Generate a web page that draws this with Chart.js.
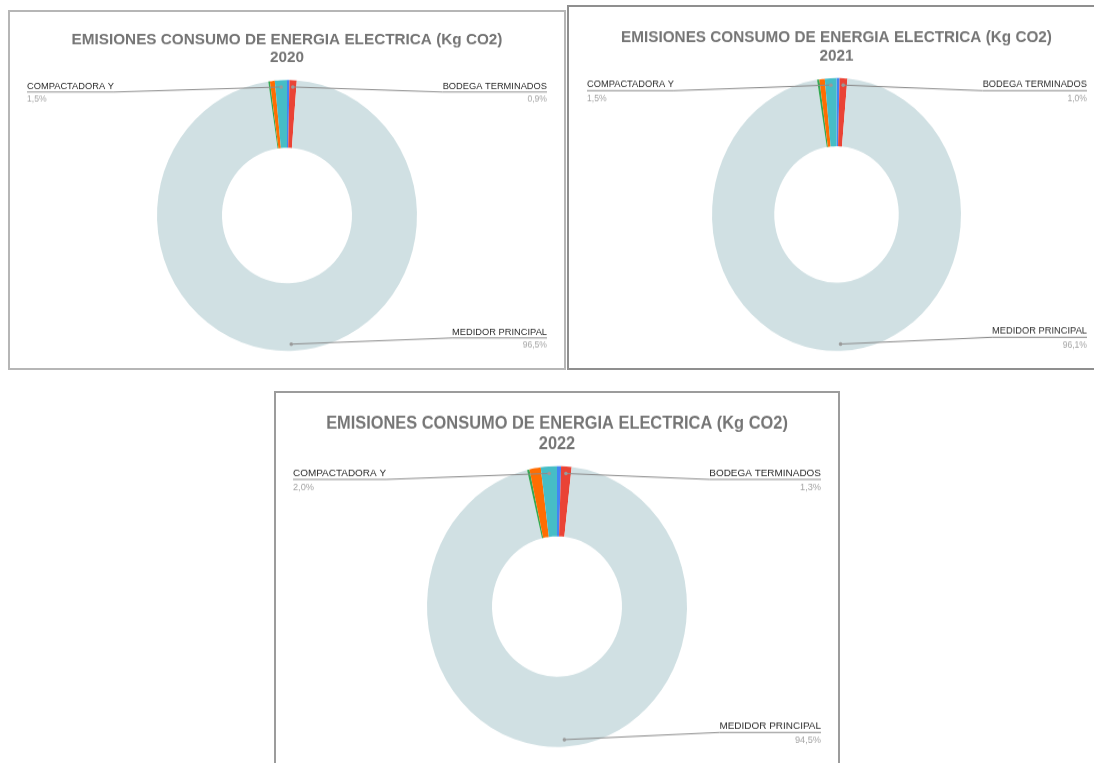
<!DOCTYPE html>
<html><head><meta charset="utf-8">
<script src="https://cdn.jsdelivr.net/npm/chart.js@4.4.1/dist/chart.umd.min.js"></script>
<style>
html,body{margin:0;padding:0;background:#fff;width:1094px;height:763px;overflow:hidden;position:relative;}
.panel{position:absolute;box-sizing:border-box;border:2px solid #aaa;background:#fff;overflow:hidden;}
.panel .inner{position:absolute;left:0;top:0;transform-origin:0 0;}
canvas{display:block;}
</style></head><body>
<div class="panel" id="p1"><div class="inner"><canvas id="c1"></canvas></div></div>
<div class="panel" id="p2"><div class="inner"><canvas id="c2"></canvas></div></div>
<div class="panel" id="p3"><div class="inner"><canvas id="c3"></canvas></div></div>
<script>
const categories = ['AREA 1', 'BODEGA TERMINADOS', 'MEDIDOR PRINCIPAL', 'AREA 2', 'AREA 3', 'COMPACTADORA Y'];
const years = ['2020', '2021', '2022'];
const values2020 = [0.3, 0.9, 96.5, 0.2, 0.6, 1.5];
const values2021 = [0.4, 1.0, 96.1, 0.3, 0.7, 1.5];
const values2022 = [0.5, 1.3, 94.5, 0.3, 1.4, 2.0];
const sliceColors = ['#4285F4', '#EA4335', '#D0E0E3', '#34A853', '#FF6D01', '#46BDC6'];
const chartTitle = 'EMISIONES CONSUMO DE ENERGIA ELECTRICA (Kg CO2)';
const labeledCategories = ['COMPACTADORA Y', 'BODEGA TERMINADOS', 'MEDIDOR PRINCIPAL'];

const FONT = '"Liberation Sans", Arial, Helvetica, sans-serif';

const leaderLabels = {
  id: 'leaderLabels',
  afterDatasetsDraw(chart, args, opts) {
    const ctx = chart.ctx;
    const meta = chart.getDatasetMeta(0);
    const data = chart.data.datasets[0].data;
    const total = data.reduce((a, b) => a + b, 0);
    const ca = chart.chartArea;
    const fs = opts.fs;
    ctx.save();
    opts.items.forEach(it => {
      const i = chart.data.labels.indexOf(it.label);
      const p = meta.data[i].getProps(['x', 'y', 'startAngle', 'endAngle', 'outerRadius'], true);
      const mid = (p.startAngle + p.endAngle) / 2;
      const px = p.x + Math.cos(mid) * p.outerRadius * 0.95;
      const py = p.y + Math.sin(mid) * p.outerRadius * 0.95;
      ctx.font = `${9.3 * fs}px ${FONT}`;
      const tw = ctx.measureText(it.label).width;
      const textY = it.row === 'top' ? ca.top + 5.8 * fs : ca.bottom - 18.2 * fs;
      const lineY = textY + 5.7 * fs;
      const pctY = textY + 12.6 * fs;
      let x0, x1;
      if (it.side === 'left') { x0 = opts.margin; x1 = x0 + tw; }
      else { x1 = chart.width - opts.margin; x0 = x1 - tw; }
      ctx.strokeStyle = '#8c8c8c';
      ctx.lineWidth = 1;
      ctx.beginPath();
      ctx.moveTo(px, py);
      if (it.side === 'left') { ctx.lineTo(x1, lineY); ctx.lineTo(x0, lineY); }
      else { ctx.lineTo(x0, lineY); ctx.lineTo(x1, lineY); }
      ctx.stroke();
      ctx.fillStyle = '#9a9a9a';
      ctx.beginPath();
      ctx.arc(px, py, 1.8, 0, Math.PI * 2);
      ctx.fill();
      ctx.textBaseline = 'middle';
      ctx.textAlign = it.side === 'left' ? 'left' : 'right';
      const tx = it.side === 'left' ? x0 : x1;
      ctx.fillStyle = '#2a2a2a';
      ctx.fillText(it.label, tx, textY);
      ctx.font = `${8.6 * fs}px ${FONT}`;
      ctx.fillStyle = '#a4a4a4';
      const pct = (data[i] / total * 100).toFixed(1).replace('.', ',') + '%';
      ctx.fillText(pct, tx, pctY);
    });
    ctx.restore();
  }
};

const panels = [
  {id: 'p1', canvas: 'c1', year: years[0], values: values2020, left: 8, top: 10, w: 558, h: 360, sy: 1.042, fs: 1, cxAbs: 287, cyAbs: 215.5, r: 130, t1Abs: 40, margin: 17, border: '#b6b6b6'},
  {id: 'p2', canvas: 'c2', year: years[1], values: values2021, left: 567, top: 5, w: 540, h: 365, sy: 1.096, fs: 1, cxAbs: 836.5, cyAbs: 214.5, r: 124.5, t1Abs: 37, margin: 18, border: '#8f8f8f'},
  {id: 'p3', canvas: 'c3', year: years[2], values: values2022, left: 274, top: 391, w: 566, h: 380, sy: 1.08, fs: 1.072, cxAbs: 557, cyAbs: 606.5, r: 130, t1Abs: 424, margin: 17, border: '#9c9c9c'}
];

const placement = {
  'COMPACTADORA Y': {side: 'left', row: 'top'},
  'BODEGA TERMINADOS': {side: 'right', row: 'top'},
  'MEDIDOR PRINCIPAL': {side: 'right', row: 'bottom'}
};

panels.forEach(P => {
  const el = document.getElementById(P.id);
  el.style.left = P.left + 'px';
  el.style.top = P.top + 'px';
  el.style.width = P.w + 'px';
  el.style.height = P.h + 'px';
  el.style.borderColor = P.border;
  const W = P.w - 4;
  const Hu = (P.h - 4) / P.sy;
  const inner = el.querySelector('.inner');
  inner.style.transform = `scale(1, ${P.sy})`;
  const cv = document.getElementById(P.canvas);
  cv.width = W;
  cv.height = Math.round(Hu);
  const cx = P.cxAbs - P.left - 2;
  const cyu = (P.cyAbs - P.top - 2) / P.sy;
  const titleSize = 15.3 * P.fs;
  const lh = 1.13;
  const lineH = titleSize * lh;
  const t1u = (P.t1Abs - P.top - 2) / P.sy;
  const tTop = t1u - lineH / 2;
  const tBottom = (cyu - P.r) - tTop - 2 * lineH;
  const padL = Math.max(0, 2 * cx - W);
  const padR = Math.max(0, W - 2 * cx);
  const padB = Math.round(Hu) - (cyu + P.r);

  new Chart(cv, {
    type: 'doughnut',
    data: {
      labels: categories,
      datasets: [{
        data: P.values,
        backgroundColor: sliceColors,
        borderWidth: 0,
        hoverOffset: 0
      }]
    },
    options: {
      responsive: false,
      animation: false,
      devicePixelRatio: 1,
      cutout: '50%',
      rotation: 0,
      layout: {padding: {left: padL, right: padR, top: 0, bottom: padB}},
      plugins: {
        legend: {display: false},
        tooltip: {enabled: false},
        title: {
          display: true,
          text: [chartTitle, P.year],
          color: '#757575',
          font: {family: FONT, size: titleSize, weight: 'bold', lineHeight: lh},
          padding: {top: tTop, bottom: tBottom}
        },
        leaderLabels: {
          fs: P.fs,
          margin: P.margin,
          items: labeledCategories.map(l => ({label: l, side: placement[l].side, row: placement[l].row}))
        }
      }
    },
    plugins: [leaderLabels]
  });
});
</script>
</body></html>
